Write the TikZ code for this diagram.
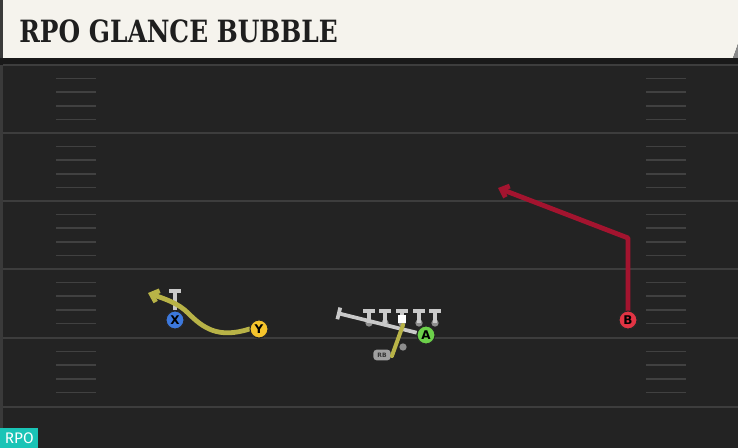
\documentclass[tikz,border=0pt]{standalone}
\usepackage{fontspec}
\usetikzlibrary{arrows.meta,positioning}
\newfontfamily\titlefont{DejaVu Serif Condensed}
\newfontfamily\tagfont{Fira Sans}
\setsansfont{DejaVu Sans}

\definecolor{fieldbg}{HTML}{232323}
\definecolor{edgegray}{HTML}{3A3A3A}
\definecolor{shadowbar}{HTML}{191919}
\definecolor{titlebg}{HTML}{F5F3ED}
\definecolor{titleink}{HTML}{1E1E1E}
\definecolor{yardgray}{HTML}{3D3D3D}
\definecolor{hashgray}{HTML}{414141}
\definecolor{blockgray}{HTML}{C9C9C9}
\definecolor{olgray}{HTML}{8E8E8E}
\definecolor{xblue}{HTML}{3C78DC}
\definecolor{yyellow}{HTML}{F5C42C}
\definecolor{agreen}{HTML}{6CD04A}
\definecolor{bred}{HTML}{E23444}
\definecolor{routered}{HTML}{A3142F}
\definecolor{routeolive}{HTML}{B8B347}
\definecolor{tagteal}{HTML}{1AC4B6}

\begin{document}
\begin{tikzpicture}[x=0.75pt,y=-0.75pt,
    player/.style={circle,draw=black!85,line width=0.8pt,inner sep=0pt,
      minimum size=13.5pt,font=\sffamily\bfseries\fontsize{9}{9}\selectfont},
    route/.style={line width=3.6pt,line cap=round,line join=round},
    block/.style={draw=blockgray,line width=2.8pt,-{Bar[width=9pt,line width=2.8pt]}},
    yardline/.style={draw=yardgray,line width=1.5pt},
    hash/.style={draw=hashgray,line width=1.3pt},
    olman/.style={circle,fill=olgray,inner sep=0pt,minimum size=5.5pt}]
  \useasboundingbox (0,0) rectangle (738,448);

  % field
  \fill[fieldbg] (0,0) rectangle (738,448);
  \fill[edgegray] (0,0) rectangle (3,448);
  \fill[shadowbar] (0,58) rectangle (738,65);
  \foreach \y in {65,133,201,269,338,407}
    \draw[yardline] (3,\y) -- (738,\y);
  \foreach \y in {65,133,201,269,338}
    \foreach \i in {1,...,4} {
      \draw[hash] (56,\y+13.6*\i) -- (96,\y+13.6*\i);
      \draw[hash] (646,\y+13.6*\i) -- (686,\y+13.6*\i);
    }

  % title bar
  \fill[titlebg] (3,0) -- (738,0) -- (738,44) -- (733,58) -- (3,58) -- cycle;
  \fill[edgegray!60] (733,58) -- (738,44) -- (738,58) -- cycle;
  \node[anchor=base west,inner sep=0pt,text=titleink,
    font=\titlefont\bfseries\fontsize{23}{24}\selectfont] (title) at (19,43)
    {\scalebox{0.9}[1]{RPO GLANCE BUBBLE}};

  % tag
  \node[anchor=south west,fill=tagteal,text=white,inner sep=0pt,
    minimum width=28.5pt,minimum height=15pt,
    font=\tagfont\fontsize{11.5}{12}\selectfont] (rpo) at (0,448) {RPO};

  % players
  \node[player,fill=xblue] (X) at (175,320) {X};
  \node[player,fill=yyellow] (Y) at (259,329) {Y};
  \node[player,fill=agreen] (A) at (426,335) {A};
  \node[player,fill=bred] (B) at (628,320) {B};
  \node[fill=olgray!85,rounded corners=2.5pt,inner sep=0pt,minimum width=13pt,
    minimum height=8pt,font=\sffamily\bfseries\fontsize{4.5}{4.5}\selectfont,text=black!80] (RB) at (382,355) {RB};
  \node[olman] (qb) at (403,347) {};

  % line
  \foreach \n/\x in {1/369,2/385,3/402,4/419,5/435} {
    \node[olman] (ol\n) at (\x,323) {};
    \coordinate (olt\n) at (\x,309);
  }
  \coordinate (aend) at (337,313);
  \coordinate (xt) at (175,289);
  \coordinate (ball) at (403,325);

  % blocks
  \draw[block] (A) -- (aend);
  \foreach \n in {1,...,5}
    \draw[block] (ol\n.center) -- (olt\n);
  \draw[block] (X.north) -- (xt);

  % mesh
  \draw[route,routeolive,line width=3pt] (RB.east) ++(1,1) -- (ball);
  \node[fill=white,inner sep=0pt,minimum size=6.5pt] (sq) at (402,319) {};

  % routes
  \coordinate (ytip) at (148,293);
  \draw[route,routeolive,-{Straight Barb[length=5pt,width=9pt]}]
    (Y.west) .. controls (218,339) and (203,328) .. (188,313)
    .. controls (178,303) and (165,299) .. (ytip);
  \coordinate (bcut) at (628,238);
  \coordinate (btip) at (498,188);
  \draw[route,routered,-{Straight Barb[length=5pt,width=9pt]}]
    (B.north) -- (bcut) -- (btip);

  % redraw players over routes
  \node[player,fill=xblue] at (X) {X};
  \node[player,fill=yyellow] at (Y) {Y};
  \node[player,fill=agreen] at (A) {A};
  \node[player,fill=bred] at (B) {B};
\end{tikzpicture}
\end{document}
